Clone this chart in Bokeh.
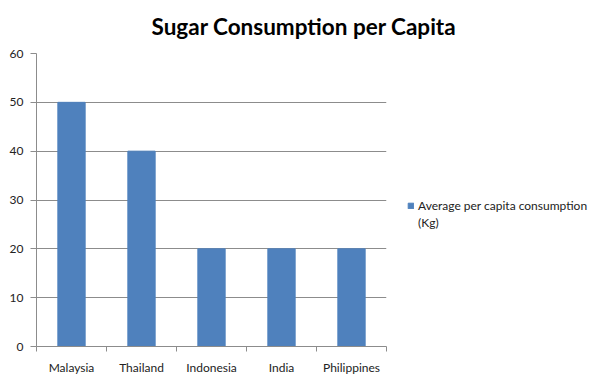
from bokeh.plotting import figure
from bokeh.models import Legend, LegendItem, FixedTicker, Range1d, Title
from bokeh.embed import file_html
from bokeh.resources import INLINE

countries = ["Malaysia", "Thailand", "Indonesia", "India", "Philippines"]
consumption = [50, 40, 20, 20, 20]
y_ticks = [0, 10, 20, 30, 40, 50, 60]
title_text = "Sugar Consumption per Capita"
series_name_lines = ["Average per capita consumption", "(Kg)"]

FONT = "Lato"
GRID = "#8c8c8c"
BAR = "#4f81bd"

xs = [i + 0.5 for i in range(len(countries))]

p = figure(frame_width=350, frame_height=293, output_backend="svg", toolbar_location=None,
           x_range=Range1d(0, len(countries)), y_range=Range1d(0, 60),
           min_border_left=36, min_border_right=0, min_border_top=53, min_border_bottom=34)
p.outline_line_color = None
p.background_fill_color = "white"
p.border_fill_color = "white"

r = p.vbar(x=xs, top=consumption, width=0.39, color=BAR)
# invisible renderer used only to carry the second line of the legend label
r_blank = p.scatter(x=[], y=[], size=0, fill_alpha=0, line_alpha=0)

p.xgrid.visible = False
p.ygrid.grid_line_color = GRID
p.ygrid.ticker = FixedTicker(ticks=y_ticks)

p.yaxis.ticker = FixedTicker(ticks=y_ticks)
p.yaxis.axis_line_color = GRID
p.yaxis.major_tick_line_color = GRID
p.yaxis.major_tick_out = 6
p.yaxis.major_tick_in = 0
p.yaxis.minor_tick_line_color = None
p.yaxis.major_label_text_font = FONT
p.yaxis.major_label_text_font_size = "12px"
p.yaxis.major_label_text_color = "#222222"
p.yaxis.major_label_standoff = 7

p.xaxis.ticker = FixedTicker(ticks=xs, minor_ticks=list(range(len(countries) + 1)))
p.xaxis.major_label_overrides = {x: c for x, c in zip(xs, countries)}
p.xaxis.axis_line_color = GRID
p.xaxis.major_tick_line_color = None
p.xaxis.major_tick_out = 5
p.xaxis.minor_tick_line_color = GRID
p.xaxis.minor_tick_out = 5
p.xaxis.minor_tick_in = 0
p.xaxis.major_label_text_font = FONT
p.xaxis.major_label_text_font_size = "12px"
p.xaxis.major_label_text_color = "#222222"
p.xaxis.major_label_standoff = 8

title = Title(text=title_text, align="left", offset=115, standoff=23, vertical_align="top",
              text_font=FONT, text_font_style="bold", text_font_size="22.5px",
              text_color="black")
p.add_layout(title, "above")

legend = Legend(items=[LegendItem(label=series_name_lines[0], renderers=[r]),
                       LegendItem(label=series_name_lines[1], renderers=[r_blank])],
                location=(21, 116), glyph_width=7, glyph_height=7,
                label_height=12, spacing=2,
                label_text_font=FONT, label_text_font_size="12px",
                label_text_color="#222222", border_line_color=None,
                background_fill_alpha=0, padding=0, margin=21, label_standoff=4)
p.add_layout(legend, "right")

open("out.html", "w").write(file_html(p, INLINE))
